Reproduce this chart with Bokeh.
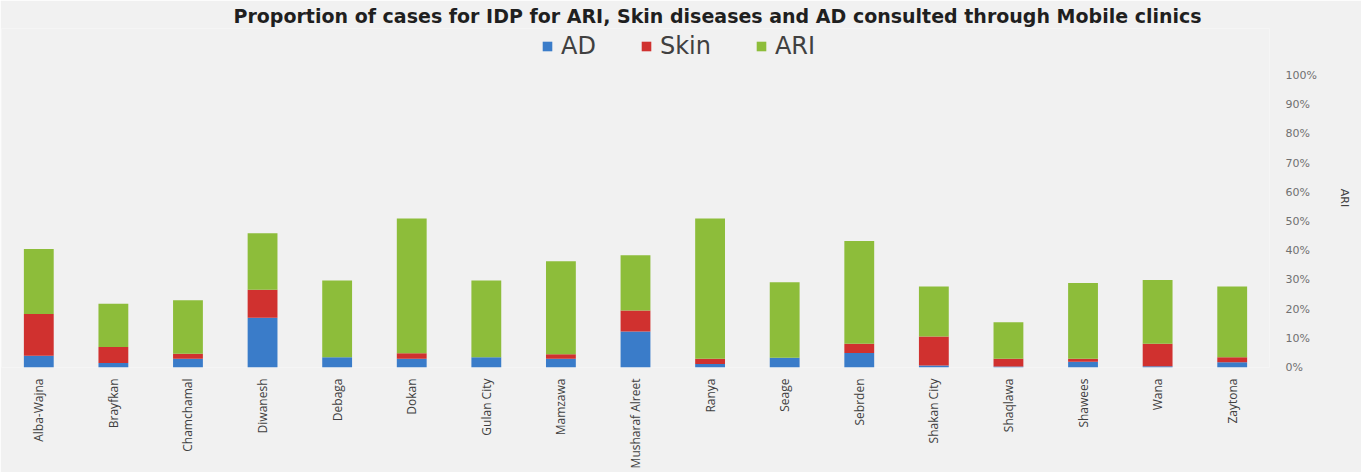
from math import pi

from bokeh.embed import file_html
from bokeh.models import (ColumnDataSource, FactorRange, FixedTicker, Legend,
                          LegendItem, NumeralTickFormatter, Range1d)
from bokeh.plotting import figure
from bokeh.resources import INLINE

# Sites visited by the mobile clinics
sites = ["Alba-Wajna", "Brayfkan", "Chamchamal", "Diwanesh", "Debaga", "Dokan",
         "Gulan City", "Mamzawa", "Musharaf Alreet", "Ranya", "Seage", "Sebrden",
         "Shakan City", "Shaqlawa", "Shawees", "Wana", "Zaytona"]

# Share of IDP consultations (percent) per condition
ad_pct = [4.0, 1.5, 3.0, 17.0, 3.5, 3.0, 3.5, 3.0, 12.3, 1.2, 3.3, 5.0, 0.7, 0.3, 2.0, 0.4, 1.8]
skin_pct = [14.3, 5.5, 1.7, 9.6, 0.0, 1.9, 0.0, 1.5, 7.2, 1.8, 0.0, 3.1, 9.9, 2.7, 1.0, 7.7, 1.7]
ari_pct = [22.3, 14.8, 18.3, 19.4, 26.3, 46.1, 26.3, 31.9, 18.9, 48.0, 25.9, 35.2, 17.1, 12.5, 25.9, 21.9, 24.2]

series = ["AD", "Skin", "ARI"]
colors = ["#3a7cc9", "#d0312f", "#8dbd3a"]

source = ColumnDataSource(dict(
    site=sites,
    AD=[v / 100 for v in ad_pct],
    Skin=[v / 100 for v in skin_pct],
    ARI=[v / 100 for v in ari_pct],
))

BG = "#f1f1f1"
TOP, BOTTOM = 28, 105
frame_h = 472 - TOP - BOTTOM
px_per_unit = 292  # height of the 0-100% span in pixels

p = figure(width=1361, height=472,
           x_range=FactorRange(factors=sites, range_padding=0),
           y_range=Range1d(0, frame_h / px_per_unit),
           y_axis_location="right",
           output_backend="svg", toolbar_location=None,
           min_border_left=1, min_border_right=92,
           min_border_top=TOP, min_border_bottom=BOTTOM,
           background_fill_color=BG, border_fill_color=BG,
           outline_line_color=None)

p.title.text = ("Proportion of cases for IDP for ARI, Skin diseases and AD "
                "consulted through Mobile clinics")
p.title.align = "left"
p.title.offset = 232
p.title.standoff = 3
p.title.text_font = "DejaVu Sans"
p.title.text_font_style = "bold"
p.title.text_font_size = "19px"
p.title.text_color = "#1f1f1f"

bars = p.vbar_stack(series, x="site", width=0.4, color=colors, source=source,
                    line_color=None)

legend = Legend(items=[LegendItem(label=s, renderers=[r]) for s, r in zip(series, bars)],
                orientation="horizontal", location=(540, frame_h - 32),
                label_text_font="DejaVu Sans", label_text_font_size="24px",
                label_text_color="#404040", glyph_width=12, glyph_height=12,
                label_standoff=8, spacing=44, padding=0, margin=0,
                background_fill_alpha=0, border_line_color=None)
p.add_layout(legend)

p.xgrid.grid_line_color = None
p.ygrid.grid_line_color = None

xa = p.xaxis[0]
xa.major_label_orientation = pi / 2
xa.major_label_text_font = "Open Sans"
xa.major_label_text_font_size = "12px"
xa.major_label_text_color = "#404040"
xa.major_label_standoff = 5
xa.major_tick_line_color = None
xa.minor_tick_line_color = None
xa.axis_line_color = None

ya = p.yaxis[0]
ya.ticker = FixedTicker(ticks=[i / 10 for i in range(11)])
ya.formatter = NumeralTickFormatter(format="0%")
ya.major_tick_line_color = None
ya.minor_tick_line_color = None
ya.major_tick_out = 0
ya.axis_line_color = None
ya.major_label_standoff = 16
ya.major_label_text_font = "DejaVu Sans"
ya.major_label_text_font_size = "11px"
ya.major_label_text_color = "#707070"
ya.axis_label = "ARI"
ya.axis_label_text_font = "DejaVu Sans"
ya.axis_label_text_font_style = "normal"
ya.axis_label_text_font_size = "11px"
ya.axis_label_text_color = "#404040"
ya.axis_label_standoff = 18

open("out.html", "w").write(file_html(p, INLINE))
